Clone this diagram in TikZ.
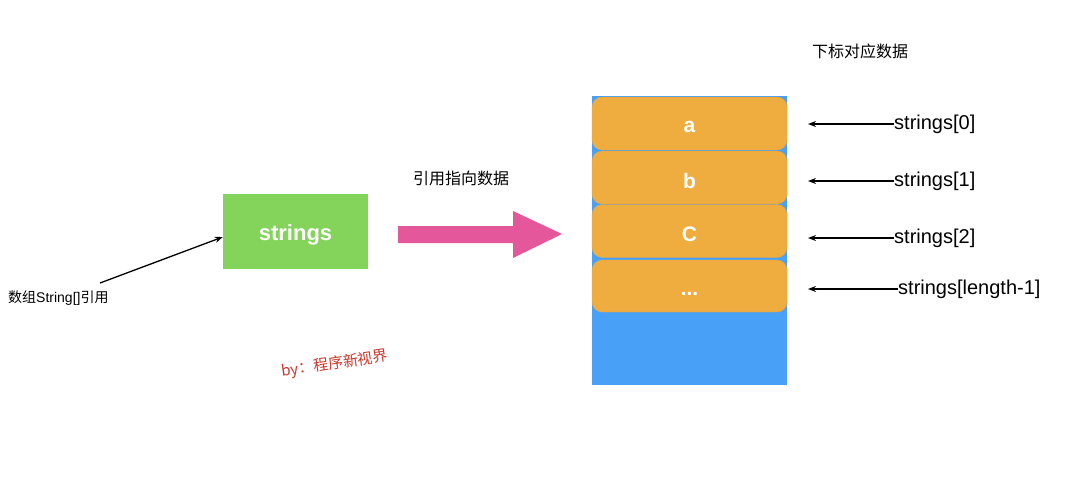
\documentclass[tikz,border=0pt]{standalone}
\usepackage{fontspec}
\setmainfont{Liberation Sans}
\newfontfamily\cjk{Noto Sans CJK SC}
\usetikzlibrary{arrows.meta}
\definecolor{gboxc}{HTML}{84D35B}
\definecolor{bluec}{HTML}{48A1F6}
\definecolor{orangec}{HTML}{EFAD40}
\definecolor{pinkc}{HTML}{E4579A}
\definecolor{wmred}{HTML}{C9392E}
\tikzset{
  cell/.style={draw=orangec!80!gray, line width=0.4pt, fill=orangec, rounded corners=10pt,
    minimum width=195pt, minimum height=53pt, inner sep=0pt, text=white, font=\bfseries\fontsize{21}{23}\selectfont},
  lbl/.style={anchor=west, inner sep=0pt, font=\fontsize{20}{22}\selectfont},
  ptr/.style={-{Stealth[length=8pt,width=6pt]}, line width=1.3pt},
  cjklbl/.style={inner sep=0pt, font=\cjk\fontsize{16}{18}\selectfont}
}
\newcommand{\lowr}[2][-3pt]{\raisebox{#1}[\height][\depth]{#2}}
\begin{document}
\begin{tikzpicture}[x=1pt,y=-1pt]
\useasboundingbox (0,0) rectangle (1080,499);
\fill[white] (0,0) rectangle (1080,499);
% green box
\node[fill=gboxc, minimum width=145pt, minimum height=75pt, inner sep=0pt, text=white,
  font=\bfseries\fontsize{22}{24}\selectfont] (str) at (295.5,231.5) {\lowr{strings}};
\coordinate (annstart) at (100,283);
\node[anchor=west, inner sep=0pt, font=\fontsize{14}{16}\selectfont] (annlbl) at (8,298) {{\cjk 数组}String[]{\cjk 引用}};
\draw[ptr] (annstart) -- (str.west|-0,237);
% pink arrow
\fill[pinkc] (398,226) -- (513,226) -- (513,211) -- (562,234) -- (513,258) -- (513,243) -- (398,243) -- cycle;
\node[cjklbl] (refl) at (461,178) {引用指向数据};
% blue array
\node[fill=bluec, minimum width=195pt, minimum height=289pt, inner sep=0pt, anchor=north west] (arr) at (592,96) {};
\node[cell] (ca) at (689.5,123.5) {\lowr{a}};
\node[cell] (cb) at (689.5,177.5) {\lowr{b}};
\node[cell] (cc) at (689.5,231) {\lowr{C}};
\node[cell, minimum height=52pt] (cd) at (689.5,286) {\lowr[-8pt]{...}};
% labels
\node[cjklbl] (idx) at (860,51) {下标对应数据};
\node[lbl] (l0) at (894,124) {strings[0]};
\node[lbl] (l1) at (894,181) {strings[1]};
\node[lbl] (l2) at (894,238) {strings[2]};
\node[lbl] (l3) at (898,289) {strings[length-1]};
\coordinate (t0) at (808,124);
\coordinate (t1) at (808,181);
\coordinate (t2) at (808,238);
\coordinate (t3) at (808,289);
\draw[ptr] (l0.west|-t0) -- (t0);
\draw[ptr] (l1.west|-t1) -- (t1);
\draw[ptr] (l2.west|-t2) -- (t2);
\draw[ptr] (l3.west|-t3) -- (t3);
% watermark
\node[rotate=8.5, text=wmred, inner sep=0pt, font=\cjk\fontsize{15}{17}\selectfont] (wm) at (335,364) {by：程序新视界};
\end{tikzpicture}
\end{document}
